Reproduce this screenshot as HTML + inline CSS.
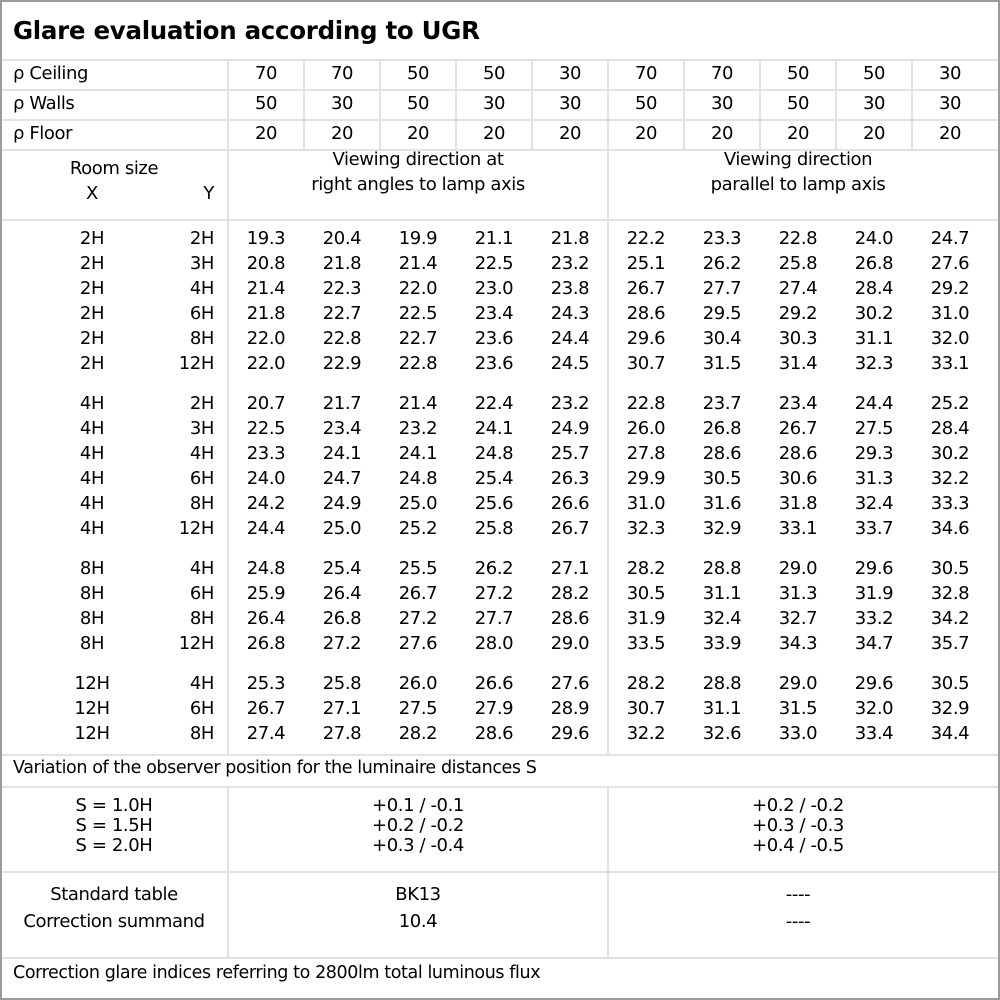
<!DOCTYPE html>
<html><head><meta charset="utf-8"><style>
body{margin:0;background:#fff}
#c{position:relative;width:1000px;height:1000px;overflow:hidden;font-family:"DejaVu Sans","Liberation Sans",sans-serif;font-size:18px;color:#000;letter-spacing:-0.4px}
.b{position:absolute;left:0;top:0;width:996px;height:996px;border:2px solid #9a9a9a}
.h{position:absolute;height:2px;background:#e2e2e2}
.v{position:absolute;width:2px;background:#e2e2e2}
.t{position:absolute;white-space:nowrap;line-height:22px}
.r{position:absolute;left:0;height:22px;line-height:22px;white-space:nowrap}
.r span{position:absolute;width:76px;text-align:center}
.r .x{left:40px;width:104px}
.r .y{left:150px;width:64px;text-align:right}
</style></head><body><div id="c">
<div class="b"></div>
<div class="t" style="left:13px;top:16px;font-size:24.5px;font-weight:bold;line-height:30px;letter-spacing:-0.3px">Glare evaluation according to UGR</div>
<div class="h" style="left:2px;width:996px;top:59px"></div>
<div class="h" style="left:2px;width:996px;top:89px"></div>
<div class="h" style="left:2px;width:996px;top:119px"></div>
<div class="h" style="left:2px;width:996px;top:149px"></div>
<div class="h" style="left:2px;width:996px;top:219px"></div>
<div class="h" style="left:2px;width:996px;top:754px"></div>
<div class="h" style="left:2px;width:996px;top:786px"></div>
<div class="h" style="left:2px;width:996px;top:871px"></div>
<div class="h" style="left:2px;width:996px;top:957px"></div>
<div class="v" style="left:227px;top:60px;height:695px"></div>
<div class="v" style="left:227px;top:787px;height:171px"></div>
<div class="v" style="left:607px;top:150px;height:605px"></div>
<div class="v" style="left:607px;top:787px;height:171px"></div>
<div class="v" style="left:303px;top:60px;height:90px"></div>
<div class="v" style="left:379px;top:60px;height:90px"></div>
<div class="v" style="left:455px;top:60px;height:90px"></div>
<div class="v" style="left:531px;top:60px;height:90px"></div>
<div class="v" style="left:607px;top:60px;height:90px"></div>
<div class="v" style="left:683px;top:60px;height:90px"></div>
<div class="v" style="left:759px;top:60px;height:90px"></div>
<div class="v" style="left:835px;top:60px;height:90px"></div>
<div class="v" style="left:911px;top:60px;height:90px"></div>

<div class="r" style="top:63px"><span style="left:13px;width:200px;text-align:left">ρ Ceiling</span><span style="left:228px">70</span><span style="left:304px">70</span><span style="left:380px">50</span><span style="left:456px">50</span><span style="left:532px">30</span><span style="left:608px">70</span><span style="left:684px">70</span><span style="left:760px">50</span><span style="left:836px">50</span><span style="left:912px">30</span></div>
<div class="r" style="top:93px"><span style="left:13px;width:200px;text-align:left">ρ Walls</span><span style="left:228px">50</span><span style="left:304px">30</span><span style="left:380px">50</span><span style="left:456px">30</span><span style="left:532px">30</span><span style="left:608px">50</span><span style="left:684px">30</span><span style="left:760px">50</span><span style="left:836px">30</span><span style="left:912px">30</span></div>
<div class="r" style="top:123px"><span style="left:13px;width:200px;text-align:left">ρ Floor</span><span style="left:228px">20</span><span style="left:304px">20</span><span style="left:380px">20</span><span style="left:456px">20</span><span style="left:532px">20</span><span style="left:608px">20</span><span style="left:684px">20</span><span style="left:760px">20</span><span style="left:836px">20</span><span style="left:912px">20</span></div>

<div class="t" style="left:0;width:228px;text-align:center;top:158px">Room size</div>
<div class="t" style="left:40px;width:104px;text-align:center;top:183px">X</div>
<div class="t" style="left:150px;width:64px;text-align:right;top:183px">Y</div>
<div class="t" style="left:228px;width:380px;text-align:center;top:147px;line-height:25px">Viewing direction at<br>right angles to lamp axis</div>
<div class="t" style="left:608px;width:380px;text-align:center;top:147px;line-height:25px">Viewing direction<br>parallel to lamp axis</div>

<div class="r" style="top:228px"><span class="x">2H</span><span class="y">2H</span><span style="left:228px">19.3</span><span style="left:304px">20.4</span><span style="left:380px">19.9</span><span style="left:456px">21.1</span><span style="left:532px">21.8</span><span style="left:608px">22.2</span><span style="left:684px">23.3</span><span style="left:760px">22.8</span><span style="left:836px">24.0</span><span style="left:912px">24.7</span></div>
<div class="r" style="top:253px"><span class="x">2H</span><span class="y">3H</span><span style="left:228px">20.8</span><span style="left:304px">21.8</span><span style="left:380px">21.4</span><span style="left:456px">22.5</span><span style="left:532px">23.2</span><span style="left:608px">25.1</span><span style="left:684px">26.2</span><span style="left:760px">25.8</span><span style="left:836px">26.8</span><span style="left:912px">27.6</span></div>
<div class="r" style="top:278px"><span class="x">2H</span><span class="y">4H</span><span style="left:228px">21.4</span><span style="left:304px">22.3</span><span style="left:380px">22.0</span><span style="left:456px">23.0</span><span style="left:532px">23.8</span><span style="left:608px">26.7</span><span style="left:684px">27.7</span><span style="left:760px">27.4</span><span style="left:836px">28.4</span><span style="left:912px">29.2</span></div>
<div class="r" style="top:303px"><span class="x">2H</span><span class="y">6H</span><span style="left:228px">21.8</span><span style="left:304px">22.7</span><span style="left:380px">22.5</span><span style="left:456px">23.4</span><span style="left:532px">24.3</span><span style="left:608px">28.6</span><span style="left:684px">29.5</span><span style="left:760px">29.2</span><span style="left:836px">30.2</span><span style="left:912px">31.0</span></div>
<div class="r" style="top:328px"><span class="x">2H</span><span class="y">8H</span><span style="left:228px">22.0</span><span style="left:304px">22.8</span><span style="left:380px">22.7</span><span style="left:456px">23.6</span><span style="left:532px">24.4</span><span style="left:608px">29.6</span><span style="left:684px">30.4</span><span style="left:760px">30.3</span><span style="left:836px">31.1</span><span style="left:912px">32.0</span></div>
<div class="r" style="top:353px"><span class="x">2H</span><span class="y">12H</span><span style="left:228px">22.0</span><span style="left:304px">22.9</span><span style="left:380px">22.8</span><span style="left:456px">23.6</span><span style="left:532px">24.5</span><span style="left:608px">30.7</span><span style="left:684px">31.5</span><span style="left:760px">31.4</span><span style="left:836px">32.3</span><span style="left:912px">33.1</span></div>

<div class="r" style="top:393px"><span class="x">4H</span><span class="y">2H</span><span style="left:228px">20.7</span><span style="left:304px">21.7</span><span style="left:380px">21.4</span><span style="left:456px">22.4</span><span style="left:532px">23.2</span><span style="left:608px">22.8</span><span style="left:684px">23.7</span><span style="left:760px">23.4</span><span style="left:836px">24.4</span><span style="left:912px">25.2</span></div>
<div class="r" style="top:418px"><span class="x">4H</span><span class="y">3H</span><span style="left:228px">22.5</span><span style="left:304px">23.4</span><span style="left:380px">23.2</span><span style="left:456px">24.1</span><span style="left:532px">24.9</span><span style="left:608px">26.0</span><span style="left:684px">26.8</span><span style="left:760px">26.7</span><span style="left:836px">27.5</span><span style="left:912px">28.4</span></div>
<div class="r" style="top:443px"><span class="x">4H</span><span class="y">4H</span><span style="left:228px">23.3</span><span style="left:304px">24.1</span><span style="left:380px">24.1</span><span style="left:456px">24.8</span><span style="left:532px">25.7</span><span style="left:608px">27.8</span><span style="left:684px">28.6</span><span style="left:760px">28.6</span><span style="left:836px">29.3</span><span style="left:912px">30.2</span></div>
<div class="r" style="top:468px"><span class="x">4H</span><span class="y">6H</span><span style="left:228px">24.0</span><span style="left:304px">24.7</span><span style="left:380px">24.8</span><span style="left:456px">25.4</span><span style="left:532px">26.3</span><span style="left:608px">29.9</span><span style="left:684px">30.5</span><span style="left:760px">30.6</span><span style="left:836px">31.3</span><span style="left:912px">32.2</span></div>
<div class="r" style="top:493px"><span class="x">4H</span><span class="y">8H</span><span style="left:228px">24.2</span><span style="left:304px">24.9</span><span style="left:380px">25.0</span><span style="left:456px">25.6</span><span style="left:532px">26.6</span><span style="left:608px">31.0</span><span style="left:684px">31.6</span><span style="left:760px">31.8</span><span style="left:836px">32.4</span><span style="left:912px">33.3</span></div>
<div class="r" style="top:518px"><span class="x">4H</span><span class="y">12H</span><span style="left:228px">24.4</span><span style="left:304px">25.0</span><span style="left:380px">25.2</span><span style="left:456px">25.8</span><span style="left:532px">26.7</span><span style="left:608px">32.3</span><span style="left:684px">32.9</span><span style="left:760px">33.1</span><span style="left:836px">33.7</span><span style="left:912px">34.6</span></div>

<div class="r" style="top:558px"><span class="x">8H</span><span class="y">4H</span><span style="left:228px">24.8</span><span style="left:304px">25.4</span><span style="left:380px">25.5</span><span style="left:456px">26.2</span><span style="left:532px">27.1</span><span style="left:608px">28.2</span><span style="left:684px">28.8</span><span style="left:760px">29.0</span><span style="left:836px">29.6</span><span style="left:912px">30.5</span></div>
<div class="r" style="top:583px"><span class="x">8H</span><span class="y">6H</span><span style="left:228px">25.9</span><span style="left:304px">26.4</span><span style="left:380px">26.7</span><span style="left:456px">27.2</span><span style="left:532px">28.2</span><span style="left:608px">30.5</span><span style="left:684px">31.1</span><span style="left:760px">31.3</span><span style="left:836px">31.9</span><span style="left:912px">32.8</span></div>
<div class="r" style="top:608px"><span class="x">8H</span><span class="y">8H</span><span style="left:228px">26.4</span><span style="left:304px">26.8</span><span style="left:380px">27.2</span><span style="left:456px">27.7</span><span style="left:532px">28.6</span><span style="left:608px">31.9</span><span style="left:684px">32.4</span><span style="left:760px">32.7</span><span style="left:836px">33.2</span><span style="left:912px">34.2</span></div>
<div class="r" style="top:633px"><span class="x">8H</span><span class="y">12H</span><span style="left:228px">26.8</span><span style="left:304px">27.2</span><span style="left:380px">27.6</span><span style="left:456px">28.0</span><span style="left:532px">29.0</span><span style="left:608px">33.5</span><span style="left:684px">33.9</span><span style="left:760px">34.3</span><span style="left:836px">34.7</span><span style="left:912px">35.7</span></div>

<div class="r" style="top:673px"><span class="x">12H</span><span class="y">4H</span><span style="left:228px">25.3</span><span style="left:304px">25.8</span><span style="left:380px">26.0</span><span style="left:456px">26.6</span><span style="left:532px">27.6</span><span style="left:608px">28.2</span><span style="left:684px">28.8</span><span style="left:760px">29.0</span><span style="left:836px">29.6</span><span style="left:912px">30.5</span></div>
<div class="r" style="top:698px"><span class="x">12H</span><span class="y">6H</span><span style="left:228px">26.7</span><span style="left:304px">27.1</span><span style="left:380px">27.5</span><span style="left:456px">27.9</span><span style="left:532px">28.9</span><span style="left:608px">30.7</span><span style="left:684px">31.1</span><span style="left:760px">31.5</span><span style="left:836px">32.0</span><span style="left:912px">32.9</span></div>
<div class="r" style="top:723px"><span class="x">12H</span><span class="y">8H</span><span style="left:228px">27.4</span><span style="left:304px">27.8</span><span style="left:380px">28.2</span><span style="left:456px">28.6</span><span style="left:532px">29.6</span><span style="left:608px">32.2</span><span style="left:684px">32.6</span><span style="left:760px">33.0</span><span style="left:836px">33.4</span><span style="left:912px">34.4</span></div>

<div class="t" style="left:13px;top:757px;font-size:17.5px">Variation of the observer position for the luminaire distances S</div>
<div class="t" style="left:0;width:228px;text-align:center;top:796px;line-height:20px">S = 1.0H<br>S = 1.5H<br>S = 2.0H</div>
<div class="t" style="left:228px;width:380px;text-align:center;top:796px;line-height:20px">+0.1 / -0.1<br>+0.2 / -0.2<br>+0.3 / -0.4</div>
<div class="t" style="left:608px;width:380px;text-align:center;top:796px;line-height:20px">+0.2 / -0.2<br>+0.3 / -0.3<br>+0.4 / -0.5</div>
<div class="t" style="left:0;width:228px;text-align:center;top:881px;line-height:27px">Standard table<br>Correction summand</div>
<div class="t" style="left:228px;width:380px;text-align:center;top:881px;line-height:27px">BK13<br>10.4</div>
<div class="t" style="left:608px;width:380px;text-align:center;top:881px;line-height:27px">----<br>----</div>
<div class="t" style="left:13px;top:962px;font-size:17.5px">Correction glare indices referring to 2800lm total luminous flux</div>
</div></body></html>
